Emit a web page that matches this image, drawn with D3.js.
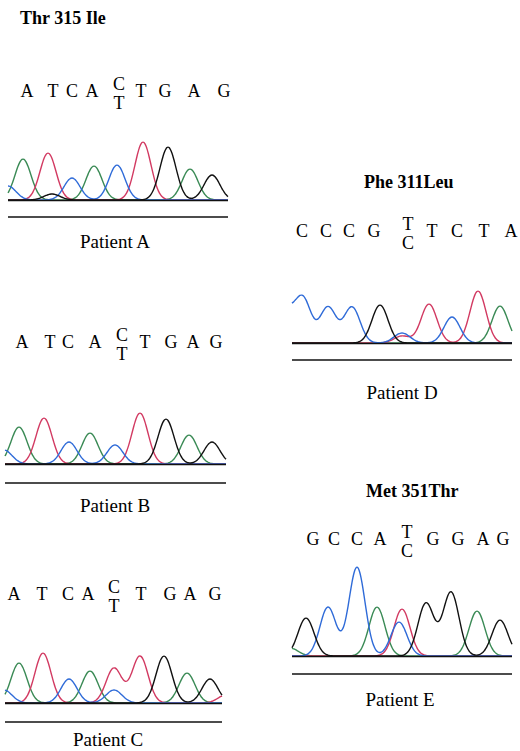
<!DOCTYPE html>
<html>
<meta charset="utf-8">
<body style="margin:0;background:#fff">
<script src="https://d3js.org/d3.v7.min.js"></script>
<script>
// peaks: [position (px along trace), height (px), base]
var peaksA = [[8,14,"B"],[23,41,"G"],[48,47,"R"],[52,6,"K"],[72,22,"B"],[94,34,"G"],[117,35,"B"],[143,58,"R"],[168,53,"K"],[190,31,"G"],[212,25,"K"]];
var peaksB = [[4,14,"B"],[19,37,"G"],[44,46,"R"],[69,22,"B"],[90,31,"G"],[115,19,"B"],[140,51,"R"],[166,45,"K"],[189,29,"G"],[212,22,"K"]];
var peaksC = [[4,13,"B"],[19,40,"G"],[43,50,"R"],[69,24,"B"],[90,32,"G"],[114,35,"R"],[114,13,"B"],[140,47,"R"],[164,47,"K"],[187,30,"G"],[210,24,"K"],[226,8,"R"]];
var peaksD = [[286,30,"B"],[303,44,"B"],[328,36,"B"],[352,36,"B"],[380,38,"K"],[402,10,"B"],[402,7,"R"],[429,39,"R"],[452,26,"B"],[478,52,"R"],[500,37,"G"]];
var peaksE = [[290,8,"G"],[306,38,"K"],[328,49,"B"],[357,89,"B"],[377,49,"G"],[402,47,"R"],[399,34,"B"],[426,53,"K"],[451,64,"K"],[477,45,"G"],[500,36,"K"]];

var seqA = ["A","T","C","A","C/T","T","G","A","G"];
var seqD = ["C","C","C","G","T/C","T","C","T","A"];
var seqE = ["G","C","C","A","T/C","G","G","A","G"];

var titles = ["Thr 315 Ile","Phe 311Leu","Met 351Thr"];
var patients = ["Patient A","Patient B","Patient C","Patient D","Patient E"];

var colors = {G:"#3a8a55",R:"#d23a62",B:"#2f6bd8",K:"#111"};

var panels = [
  {peaks:peaksA, seq:seqA, seqX:[27,53,72,92,119,141,165,194,224], seqY:97, x0:8, x1:228, base:200, line:217, label:patients[0], labY:248, labX:115},
  {peaks:peaksB, seq:seqA, seqX:[22,50,68,95,122,145,171,193,216], seqY:348, x0:5, x1:226, base:464, line:483, label:patients[1], labY:512, labX:115},
  {peaks:peaksC, seq:seqA, seqX:[14,42,68,88,114,141,170,190,215], seqY:600, x0:5, x1:222, base:703, line:722, label:patients[2], labY:746, labX:108},
  {peaks:peaksD, seq:seqD, seqX:[302,326,349,374,408,432,457,484,511], seqY:237, x0:292, x1:512, base:343, line:360, label:patients[3], labY:399, labX:402},
  {peaks:peaksE, seq:seqE, seqX:[313,334,357,380,407,433,458,483,503], seqY:545, x0:292, x1:512, base:656, line:674, label:patients[4], labY:706, labX:400}
];

var svg = d3.select("body").append("svg").attr("width",520).attr("height",751);
var serif = "'Liberation Serif','DejaVu Serif',serif";

svg.selectAll("text.title").data([[20,24],[364,188],[366,497]]).enter().append("text")
  .attr("class","title").attr("x",function(d){return d[0];}).attr("y",function(d){return d[1];})
  .text(function(d,i){return titles[i];})
  .attr("font-family",serif).attr("font-weight","bold").attr("font-size",18);

var sigma = 8;
panels.forEach(function(p){
  var y = d3.scaleLinear().domain([0,100]).range([p.base,p.base-100]);
  var xs = d3.range(p.x0,p.x1+0.5,1);
  ["G","R","B","K"].forEach(function(c){
    var pk = p.peaks.filter(function(d){return d[2]==c;});
    if(!pk.length) return;
    var pts = xs.map(function(x){
      var v = 0;
      pk.forEach(function(d){ v += d[1]*Math.exp(-Math.pow(x-d[0],2)/(2*sigma*sigma)); });
      return [x,v];
    });
    svg.append("path").datum(pts)
      .attr("d", d3.line().x(function(d){return d[0];}).y(function(d){return y(d[1]);}).curve(d3.curveBasis))
      .attr("fill","none").attr("stroke",colors[c]).attr("stroke-width",1.4);
  });
  svg.append("line").attr("x1",p.x0).attr("x2",p.x1).attr("y1",p.base+0.5).attr("y2",p.base+0.5).attr("stroke","#111").attr("stroke-width",1.6);
  svg.append("line").attr("x1",p.x0).attr("x2",p.x1).attr("y1",p.line).attr("y2",p.line).attr("stroke","#111").attr("stroke-width",1.6);
  svg.append("text").attr("x",p.labX).attr("y",p.labY).attr("text-anchor","middle")
    .attr("font-family",serif).attr("font-size",19).text(p.label);
  p.seq.forEach(function(s,i){
    var parts = s.split("/");
    if(parts.length==1){
      svg.append("text").attr("x",p.seqX[i]).attr("y",p.seqY).attr("text-anchor","middle")
        .attr("font-family",serif).attr("font-size",18).text(s);
    } else {
      svg.append("text").attr("x",p.seqX[i]).attr("y",p.seqY-7).attr("text-anchor","middle")
        .attr("font-family",serif).attr("font-size",18).text(parts[0]);
      svg.append("text").attr("x",p.seqX[i]).attr("y",p.seqY+12).attr("text-anchor","middle")
        .attr("font-family",serif).attr("font-size",18).text(parts[1]);
    }
  });
});
</script>
</body>
</html>
